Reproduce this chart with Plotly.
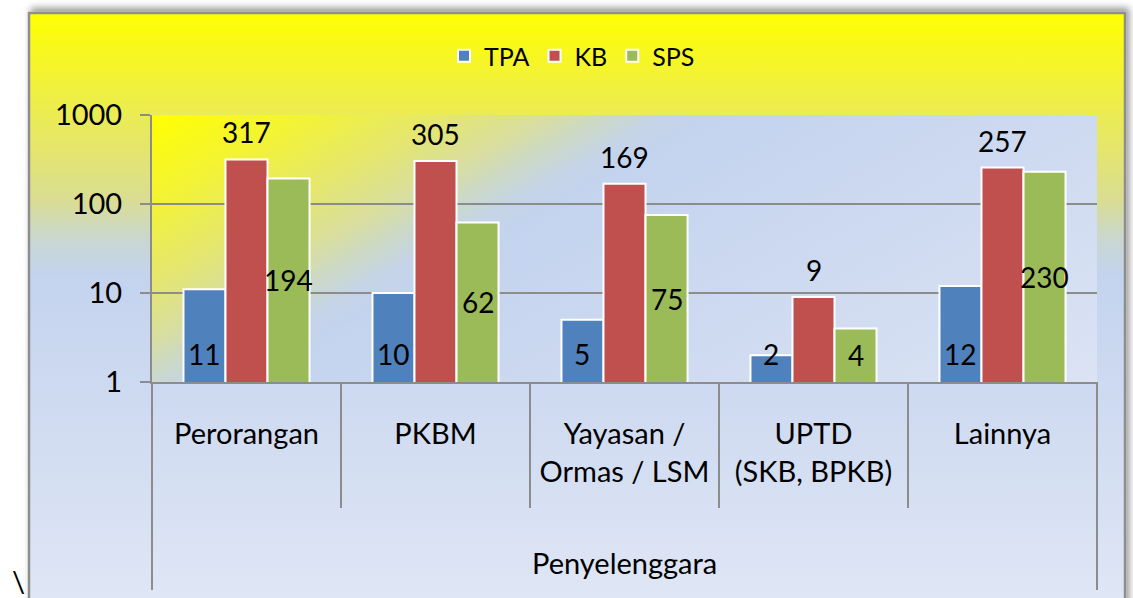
import base64
import math
import plotly.graph_objects as go

# ---------------- data ----------------
categories = ["Perorangan", "PKBM", "Yayasan /<br>Ormas / LSM", "UPTD<br>(SKB, BPKB)", "Lainnya"]
group_label = "Penyelenggara"
series_names = ["TPA", "KB", "SPS"]
tpa = [11, 10, 5, 2, 12]
kb = [317, 305, 169, 9, 257]
sps = [194, 62, 75, 4, 230]
y_tick_vals = [1, 10, 100, 1000]
y_tick_text = ["1", "10", "100", "1000"]

# ---------------- geometry / style ----------------
W, H = 1133, 598
L, R, T, B = 152, 36, 115, 216
PW, PH = W - L - R, H - T - B
BARGAP = 0.333
FONT = "Lato"
GRID = "#8c8c8c"
colors = ["#4f81bd", "#c0504d", "#9bbb59"]
axis_font = dict(family=FONT, size=29, color="black")
label_font = dict(family=FONT, size=28, color="black")
legend_font = dict(family=FONT, size=25, color="black")


def py(px_y):
    """page pixel y -> paper y"""
    return (H - B - px_y) / PH


def px(px_x):
    return (px_x - L) / PW


svg = f'''<svg xmlns="http://www.w3.org/2000/svg" width="{W}" height="{H}" viewBox="0 0 {W} {H}" preserveAspectRatio="none">
<defs>
<linearGradient id="og" gradientUnits="userSpaceOnUse" x1="0" y1="12" x2="0" y2="598">
 <stop offset="0" stop-color="#ffff00"/>
 <stop offset="0.15" stop-color="#eeee48"/>
 <stop offset="0.32" stop-color="#dadd92"/>
 <stop offset="0.39" stop-color="#c9d7d2"/>
 <stop offset="0.45" stop-color="#c4d3ee"/>
 <stop offset="1" stop-color="#dfe6f5"/>
</linearGradient>
<linearGradient id="pg" gradientUnits="userSpaceOnUse" x1="{L}" y1="{T}" x2="495" y2="724">
 <stop offset="0" stop-color="#ffff00"/>
 <stop offset="0.11" stop-color="#f3f336"/>
 <stop offset="0.21" stop-color="#e4e670"/>
 <stop offset="0.28" stop-color="#d8dea0"/>
 <stop offset="0.32" stop-color="#ccd9c6"/>
 <stop offset="0.36" stop-color="#c5d4e6"/>
 <stop offset="0.40" stop-color="#c4d3ee"/>
 <stop offset="1" stop-color="#dbe3f4"/>
</linearGradient>
<filter id="sh" x="-5%" y="-5%" width="110%" height="110%">
 <feDropShadow dx="3" dy="-4" stdDeviation="3.5" flood-color="#000" flood-opacity="0.4"/>
</filter>
</defs>
<rect x="29" y="13" width="1096" height="640" fill="url(#og)" stroke="#8e8e8e" stroke-width="2.5" filter="url(#sh)"/>
<rect x="{L}" y="{T}" width="{PW}" height="{PH}" fill="url(#pg)"/>
</svg>'''
src = "data:image/svg+xml;base64," + base64.b64encode(svg.encode()).decode()

fig = go.Figure()
for name, vals, col in zip(series_names, [tpa, kb, sps], colors):
    fig.add_trace(go.Bar(
        name=name, x=categories, y=vals,
        marker=dict(color=col, line=dict(color="white", width=2)),
        hoverinfo="x+y+name",
    ))

# data labels
slot = PW / len(categories)
bw = slot * (1 - BARGAP) / 3
ann = []
for c, v in zip(categories, tpa):   # inside base
    ann.append(dict(x=c, y=0, xref="x", yref="y", text=str(v), showarrow=False,
                    xshift=-bw, yshift=28, yanchor="middle", font=label_font))
for c, v in zip(categories, kb):    # outside end
    ann.append(dict(x=c, y=math.log10(v), xref="x", yref="y", text=str(v), showarrow=False,
                    xshift=0, yshift=27, yanchor="middle", font=label_font))
for c, v in zip(categories, sps):   # center
    ann.append(dict(x=c, y=math.log10(v) / 2, xref="x", yref="y", text=str(v), showarrow=False,
                    xshift=bw, yshift=0, yanchor="middle", font=label_font))
ann.append(dict(x=0.5, y=py(562), xref="paper", yref="paper", text=group_label,
                showarrow=False, yanchor="middle", font=axis_font))
ann.append(dict(x=px(10), y=py(580), xref="paper", yref="paper", text="\\",
                showarrow=False, yanchor="middle", font=axis_font))

shapes = [
    dict(type="line", xref="paper", yref="paper", x0=0, x1=0, y0=0, y1=py(590),
         line=dict(color=GRID, width=2)),
    dict(type="line", xref="paper", yref="paper", x0=1, x1=1, y0=0, y1=py(590),
         line=dict(color=GRID, width=2)),
]

fig.update_layout(
    width=W, height=H,
    margin=dict(l=L, r=R, t=T, b=B, pad=0),
    paper_bgcolor="white",
    plot_bgcolor="rgba(0,0,0,0)",
    barmode="group", bargap=BARGAP, bargroupgap=0,
    font=axis_font,
    images=[dict(source=src, xref="paper", yref="paper", x=-L / PW, y=1 + T / PH,
                 sizex=W / PW, sizey=H / PH, sizing="stretch",
                 xanchor="left", yanchor="top", layer="below")],
    legend=dict(orientation="h", x=px(572), xanchor="center", y=py(56), yanchor="middle",
                bgcolor="rgba(0,0,0,0)", font=legend_font, traceorder="normal"),
    annotations=ann,
    shapes=shapes,
    showlegend=True,
)
fig.update_yaxes(
    type="log", range=[0, 3], tickvals=y_tick_vals, ticktext=y_tick_text,
    showgrid=True, gridcolor=GRID, gridwidth=1.5, zeroline=False,
    showline=True, linecolor=GRID, linewidth=2,
    ticks="outside", ticklen=10, tickcolor=GRID, tickwidth=2,
    tickfont=axis_font, ticklabelstandoff=12,
)
fig.update_xaxes(
    type="category", showgrid=False, zeroline=False,
    showline=True, linecolor=GRID, linewidth=2,
    ticks="outside", tickson="boundaries", ticklen=124, tickcolor=GRID, tickwidth=2,
    tickfont=axis_font, ticklabelstandoff=25,
)

fig.write_html("out.html", config={"displayModeBar": False},
               post_script="document.body.style.margin='0';")
